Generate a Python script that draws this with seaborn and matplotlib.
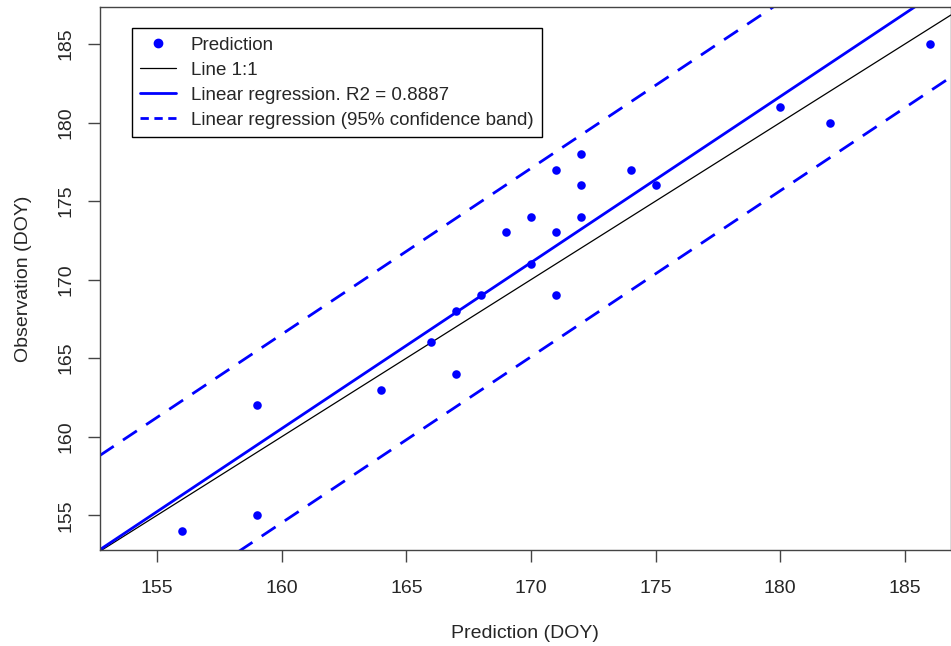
import numpy as np
import pandas as pd
import matplotlib
matplotlib.use("Agg")
import matplotlib.pyplot as plt
import seaborn as sns
from matplotlib.lines import Line2D

# data
prediction = [156, 159, 159, 164, 166, 167, 167, 168, 169, 170, 170,
              171, 171, 171, 172, 172, 172, 174, 175, 180, 182, 186]
observation = [154, 162, 155, 163, 166, 168, 164, 169, 173, 174, 171,
               177, 173, 169, 178, 176, 174, 177, 176, 181, 180, 185]
r2_label = "0.8887"
band_half = 6.0  # half width of the dashed band

x_lim = (152.7, 186.85)
y_lim = (152.8, 187.35)
ticks = [155, 160, 165, 170, 175, 180, 185]

blue = "#0000FF"

def main():
    sns.set_style("white")
    plt.rcParams['font.family'] = ['Liberation Sans', 'DejaVu Sans']

    df = pd.DataFrame({'pred': prediction, 'obs': observation})
    slope, intercept = np.polyfit(df['pred'], df['obs'], 1)

    fig = plt.figure(figsize=(9.51, 6.46), dpi=100)
    ax = fig.add_axes([0.105, 0.149, 0.895, 0.840])

    xs = np.array(x_lim)
    line_df = pd.DataFrame({'x': xs, 'one': xs,
                            'fit': intercept + slope * xs,
                            'up': intercept + slope * xs + band_half,
                            'lo': intercept + slope * xs - band_half})

    sns.lineplot(data=line_df, x='x', y='one', color='black', lw=0.9, ax=ax)
    sns.lineplot(data=line_df, x='x', y='fit', color=blue, lw=2.0, ax=ax)
    sns.lineplot(data=line_df, x='x', y='up', color=blue, lw=2.0, ax=ax).lines[-1].set_dashes([6, 4])
    sns.lineplot(data=line_df, x='x', y='lo', color=blue, lw=2.0, ax=ax).lines[-1].set_dashes([6, 4])
    sns.scatterplot(data=df, x='pred', y='obs', color=blue, s=38, edgecolor=blue,
                    linewidth=0, ax=ax, zorder=5)

    ax.set_xlim(*x_lim)
    ax.set_ylim(*y_lim)
    ax.set_xticks(ticks)
    ax.set_yticks(ticks)
    ax.tick_params(axis='both', direction='out', length=8.6, width=1, color='#444444',
                   labelsize=14, bottom=True, left=True)
    ax.tick_params(axis='x', pad=13)
    ax.tick_params(axis='y', pad=10)
    for lbl in ax.get_yticklabels():
        lbl.set_rotation(90)
        lbl.set_va('center')
    for sp in ax.spines.values():
        sp.set_color('#444444')
        sp.set_linewidth(1)
    ax.set_xlabel('Prediction (DOY)', fontsize=14, labelpad=20)
    ax.set_ylabel('Observation (DOY)', fontsize=14, labelpad=18)

    handles = [
        Line2D([], [], ls='none', marker='o', color=blue, markersize=6),
        Line2D([], [], color='black', lw=0.9),
        Line2D([], [], color=blue, lw=2),
        Line2D([], [], color=blue, lw=2, ls=(0, (3, 2))),
    ]
    labels = ['Prediction', 'Line 1:1', 'Linear regression. R2 = ' + r2_label,
              'Linear regression (95% confidence band)']
    leg = ax.legend(handles, labels, loc='upper left', bbox_to_anchor=(0.0376, 0.961),
                    fontsize=13.5, frameon=True, fancybox=False, framealpha=1,
                    edgecolor='black', borderpad=0.45, handlelength=1.9,
                    handletextpad=0.8, labelspacing=0.42, borderaxespad=0)
    leg.get_frame().set_linewidth(1)

    plt.savefig('out.png', dpi=100)
    plt.close()

if __name__ == "__main__":
    main()
